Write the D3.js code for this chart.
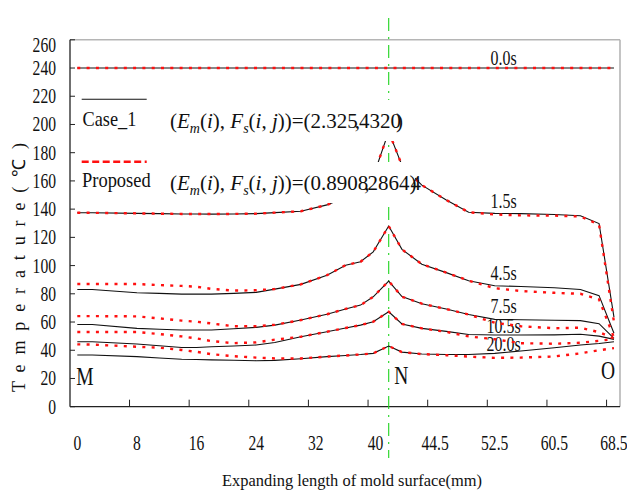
<!DOCTYPE html>
<html><head><meta charset="utf-8">
<script src="https://cdn.jsdelivr.net/npm/d3@7"></script>
<style>body{margin:0;background:#fff}</style>
</head><body><svg id="c" width="627" height="498"></svg>
<script>
// ---------- data ----------
const xLabels = [0, 8, 16, 24, 32, 40, 44.5, 52.5, 60.5, 68.5];
const yTicks = [0, 20, 40, 60, 80, 100, 120, 140, 160, 180, 200, 220, 240, 260];
const xs = [0, 2, 8, 11, 14, 16, 18, 21, 24, 26.5, 30, 33.5, 36, 38, 39.7, 41, 42, 43.5, 46, 49, 52.5, 56, 60.5, 64, 66.5, 68.5];
const timeLabels = ["0.0s", "1.5s", "4.5s", "7.5s", "10.5s", "20.0s"];
const labelT = [242, 140.7, 89.7, 66.3, 52.2, 39.5];

const case1_00 = [240,240,240,240,240,240,240,240,240,240,240,240,240,240,240,240,240,240,240,240,240,240,240,240,240,240];
const prop_00  = [240,240,240,240,240,240,240,240,240,240,240,240,240,240,240,240,240,240,240,240,240,240,240,240,240,240];
const case1_15 = [137.4,137.4,137,136.8,136.6,136.6,136.5,136.6,136.8,137.5,138.5,143,148.5,155,163,195,171,157,146.5,137.8,137,136.8,136.2,135.3,129.8,63.5];
const prop_15  = [137.4,137.4,137,136.8,136.6,136.6,136.5,136.6,136.8,137.5,138.5,143,148.5,155,163,195,171,157,146.5,137.8,136.2,135.6,135.4,134.8,129,60];
const case1_45 = [83.1,83.1,80.7,80.3,79.8,79.8,79.8,80.3,81,83.3,86.7,93.2,100.3,102.7,109.7,128,111.5,101,95,89.3,85.7,85.2,84.3,83,78.7,52];
const prop_45  = [86.9,86.9,86.9,86.2,85.6,85,83.5,82.3,82.5,83.4,86.7,93.2,100.3,102.7,109.7,128,111.5,101,95,89.3,84,82,80.7,80,76,49];
const case1_75 = [58.3,58.3,55.5,54.9,54.3,54.3,54.3,55.2,56.2,57.8,61.4,65.5,69.3,72,77.9,89,78,73,69.2,65.3,61.9,61.6,61.3,61,58.8,48.4];
const prop_75  = [64.2,64.2,64,62.6,61,60.2,59,57,57,58,61.4,65.5,69.3,72,77.9,89,78,73,69.2,65.3,59.5,57,55.6,56,52.8,48.4];
const case1_105 = [46,46,44.4,43.2,42,42,42.5,43,43.7,45.5,49.6,53.1,55.8,57.8,60.2,67.3,58.6,55.5,53.4,51.2,50.8,50.8,50.9,51.3,50,47.7];
const prop_105  = [52.9,52.9,52.9,51.5,49.8,48.4,46.5,45,45.6,47.5,49.6,53.1,55.8,57.8,60.2,67.3,58.6,55.5,53,49.8,47.8,45,44.6,45.3,46.7,47.9];
const case1_20 = [36.6,36.6,35.5,34.5,33.6,33.5,33.2,32.9,32.6,32.8,34,35.5,36.3,37,37.8,43,38.7,37.3,37,37,37.8,39.5,41.8,43.7,44.8,46];
const prop_20  = [44.2,44,42.5,41.8,40.2,38.9,37.2,35.8,34.8,34.2,34.2,35.5,36.3,37,37.8,43,38.7,37.3,36.5,35.5,34.6,34.8,35.6,37.8,40,41.5];
const xN = 41;

const caseSeries = [case1_00, case1_15, case1_45, case1_75, case1_105, case1_20];
const propSeries = [prop_00, prop_15, prop_45, prop_75, prop_105, prop_20];

// ---------- layout ----------
const svg = d3.select("#c");
const FONT = "'Liberation Serif','Times New Roman',serif";
const x0 = 77.3, step = 59.63;
const x = d3.scaleLinear().domain(xLabels).range(xLabels.map((d, i) => x0 + i * step));
const y = d3.scaleLinear().domain([0, 260]).range([406.7, 39.8]);
const plotL = 70, plotR = 620, plotT = y(260), plotB = y(0);

function txt(parent, px, py, s, o = {}) {
  const g = parent.append("g").attr("transform", `translate(${px},${py}) scale(${o.sx ?? 0.78},1)`);
  return g.append("text").attr("text-anchor", o.anchor || "start")
    .attr("font-family", FONT).attr("font-size", o.size || 20).attr("fill", "#111").text(s);
}

// frame
svg.append("line").attr("x1", plotL).attr("x2", plotR).attr("y1", plotT).attr("y2", plotT)
  .attr("stroke", "#b5b5b5").attr("stroke-width", 1.6);
svg.append("line").attr("x1", plotR).attr("x2", plotR).attr("y1", plotT).attr("y2", plotB)
  .attr("stroke", "#b5b5b5").attr("stroke-width", 1.6);

// y axis
svg.append("line").attr("x1", plotL).attr("x2", plotL).attr("y1", plotT).attr("y2", plotB)
  .attr("stroke", "#222").attr("stroke-width", 1.3);
yTicks.forEach(t => {
  svg.append("line").attr("x1", plotL).attr("x2", plotL + 5).attr("y1", y(t)).attr("y2", y(t))
    .attr("stroke", "#222").attr("stroke-width", 1);
  txt(svg, 56, y(t) + 7 + (t === 260 ? 5 : 0), String(t), { anchor: "end" });
});
// x axis
svg.append("line").attr("x1", plotL).attr("x2", plotR).attr("y1", plotB).attr("y2", plotB)
  .attr("stroke", "#222").attr("stroke-width", 1.3);
xLabels.forEach((t, i) => {
  if (i > 0) svg.append("line").attr("x1", x(t) - 7.4).attr("x2", x(t) - 7.4)
    .attr("y1", plotB).attr("y2", plotB - 7).attr("stroke", "#222").attr("stroke-width", 1);
  txt(svg, x(t), 450, String(t), { anchor: "middle" });
});

// axis titles
svg.append("text").attr("x", 352).attr("y", 486).attr("text-anchor", "middle")
  .attr("font-family", FONT).attr("font-size", 17.5).attr("fill", "#111")
  .attr("textLength", 260).attr("lengthAdjust", "spacingAndGlyphs")
  .text("Expanding length of mold surface(mm)");
svg.append("text").attr("transform", "translate(25,267.5) rotate(-90)")
  .attr("text-anchor", "middle").attr("font-family", FONT).attr("font-size", 18).attr("fill", "#111")
  .attr("textLength", 249).attr("lengthAdjust", "spacing")
  .text("Temperature(℃)");

// green centre line
svg.append("line").attr("x1", x(xN)).attr("x2", x(xN)).attr("y1", 18).attr("y2", 458)
  .attr("stroke", "#1fd41f").attr("stroke-width", 1.1).attr("stroke-dasharray", "13,6,2,6");

// series labels
timeLabels.forEach((s, i) => txt(svg, x(53.7), y(labelT[i]), s, { anchor: "middle", size: 21, sx: 0.76 }));
// point labels
txt(svg, x(0) - 1, y(15.4), "M", { size: 26, sx: 0.75 });
txt(svg, x(xN) + 5.5, y(16), "N", { size: 26, sx: 0.75 });
txt(svg, x(68.5) + 1, y(19.6), "O", { size: 26, sx: 0.75, anchor: "end" });

// lines
const line = d3.line().x((d, i) => x(xs[i])).y(d => y(d));
const lg = svg.append("g").attr("fill", "none");
caseSeries.forEach(s => lg.append("path").attr("d", line(s)).attr("stroke", "#111").attr("stroke-width", 1.1));
propSeries.forEach(s => lg.append("path").attr("d", line(s)).attr("stroke", "#ff1010")
  .attr("stroke-width", 2.4).attr("stroke-dasharray", "3,6.3"));

// formula boxes
svg.append("rect").attr("x", 165).attr("y", 100).attr("width", 241).attr("height", 41).attr("fill", "#fff");
svg.append("rect").attr("x", 165).attr("y", 162).attr("width", 250).attr("height", 41).attr("fill", "#fff");

function formula(px, py, tail) {
  const t = svg.append("g").attr("transform", `translate(${px},${py}) scale(1,1)`)
    .append("text").attr("font-family", FONT).attr("font-size", 21).attr("fill", "#111");
  const parts = [["(", 0], ["E", 1], ["m", 2], ["(", 0], ["i", 1], ["), ", 0], ["F", 1], ["s", 2], ["(", 0], ["i", 1], [", ", 0], ["j", 1], ["))", 0]].concat(tail);
  let sub = false;
  parts.forEach(([s, k, dx]) => {
    const ts = t.append("tspan").text(s);
    if (k === 1 || k === 2) ts.attr("font-style", "italic");
    if (k === 2) { ts.attr("font-size", 14).attr("dy", 5); sub = true; }
    else if (sub) { ts.attr("dy", -5); sub = false; }
    if (dx) ts.attr("dx", dx);
  });
}
formula(170, 128, [["=(2.325", 0], [",", 0, -3], ["4320", 0, -1], [")", 0, -5]]);
formula(170, 190, [["=(0.8908", 0], [",", 0, -4], ["2864", 0, -2], [")", 0, 0], ["4", 0, -6]]);

// legend
svg.append("line").attr("x1", 81.7).attr("x2", 146.7).attr("y1", 99.3).attr("y2", 99.3)
  .attr("stroke", "#111").attr("stroke-width", 1.1);
svg.append("line").attr("x1", 81.7).attr("x2", 146.7).attr("y1", 161.7).attr("y2", 161.7)
  .attr("stroke", "#ff1010").attr("stroke-width", 2.4).attr("stroke-dasharray", "7,3.5");
txt(svg, 82.5, 125.5, "Case_1", { size: 21, sx: 0.87 });
txt(svg, 82, 187, "Proposed", { size: 20.5, sx: 0.9 });
</script></body></html>
